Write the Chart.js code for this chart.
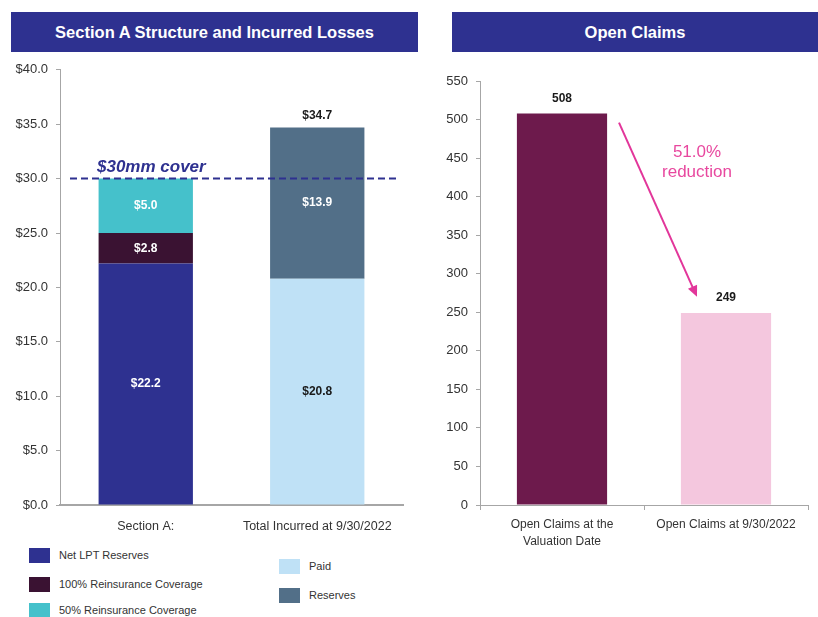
<!DOCTYPE html>
<html>
<head>
<meta charset="utf-8">
<script src="https://cdn.jsdelivr.net/npm/chart.js@4.4.0/dist/chart.umd.min.js"></script>
<style>
  body { margin: 0; background: #fff; font-family: "Liberation Sans", Arial, sans-serif; }
  .wrap { position: relative; width: 818px; height: 617px; overflow: hidden; }
  .head { position: absolute; top: 12px; height: 40px; background: #2e3190; color: #fff;
          font-weight: bold; font-size: 16.5px; text-align: center; line-height: 40px; }
  canvas { position: absolute; }
  .lg { position: absolute; font-size: 11px; color: #333; }
  .lg span { position: absolute; width: 21px; height: 15px; left: 0; top: 0; }
  .lg div { position: absolute; left: 30px; top: 1px; white-space: nowrap; }
</style>
</head>
<body>
<div class="wrap">
  <div style="position:absolute;left:0;top:54px;width:420px;height:486px;"><canvas id="lossChart"></canvas></div>
  <div style="position:absolute;left:430px;top:60px;width:388px;height:495px;"><canvas id="claimChart"></canvas></div>
  <div class="head" style="left:11px;width:407px;">Section A Structure and Incurred Losses</div>
  <div class="head" style="left:452px;width:366px;">Open Claims</div>
  <div id="legend"></div>
</div>
<script>
// data
const lossCats = ['Section A:', 'Total Incurred at 9/30/2022'];
const netLpt = [22.2, null];
const cover100 = [2.8, null];
const cover50 = [5.0, null];
const paid = [null, 20.8];
const reserves = [null, 13.9];
const coverLevel = 30;

const claimCats = [['Open Claims at the', 'Valuation Date'], 'Open Claims at 9/30/2022'];
const openClaims = [508, 249];
const reductionText = ['51.0%', 'reduction'];

const legendItems = [
  { label: 'Net LPT Reserves', color: '#2e3190', x: 29, y: 548 },
  { label: '100% Reinsurance Coverage', color: '#3a1232', x: 29, y: 577 },
  { label: '50% Reinsurance Coverage', color: '#45c1cb', x: 29, y: 603 },
  { label: 'Paid', color: '#bfe1f6', x: 279, y: 559 },
  { label: 'Reserves', color: '#526f88', x: 279, y: 588 }
];

let lg = document.getElementById('legend');
legendItems.forEach(function(it){
  let d = document.createElement('div');
  d.className = 'lg';
  d.style.left = it.x + 'px';
  d.style.top = it.y + 'px';
  d.innerHTML = '<span style="background:' + it.color + '"></span><div>' + it.label + '</div>';
  lg.appendChild(d);
});

Chart.defaults.font.family = '"Liberation Sans", Arial, sans-serif';
Chart.defaults.color = '#333';

const axisGray = '#a6a6a6';

// draws the value labels, the cover line and the total
const lossLabels = {
  id: 'lossLabels',
  afterDatasetsDraw(chart) {
    const ctx = chart.ctx;
    const y = chart.scales.y;
    const x = chart.scales.x;
    ctx.save();
    ctx.font = 'bold 12px "Liberation Sans", Arial';
    ctx.textAlign = 'center';
    ctx.textBaseline = 'middle';
    chart.data.datasets.forEach(function(ds, i){
      chart.getDatasetMeta(i).data.forEach(function(bar, j){
        if (ds.data[j] == null) return;
        ctx.fillStyle = ds.labelColor;
        ctx.fillText('$' + ds.data[j].toFixed(1), bar.x, (bar.y + bar.base) / 2);
      });
    });
    let total = paid[1] + reserves[1];
    ctx.fillStyle = '#1a1a1a';
    ctx.fillText('$' + total.toFixed(1), x.getPixelForValue(1), y.getPixelForValue(total) - 12);

    let ly = y.getPixelForValue(coverLevel);
    ctx.strokeStyle = '#2e3190';
    ctx.lineWidth = 2;
    ctx.setLineDash([7, 4]);
    ctx.beginPath();
    ctx.moveTo(chart.chartArea.left + 10, ly);
    ctx.lineTo(chart.chartArea.right - 3, ly);
    ctx.stroke();
    ctx.setLineDash([]);
    ctx.font = 'italic bold 17px "Liberation Sans", Arial';
    ctx.fillStyle = '#2e3190';
    ctx.textAlign = 'left';
    ctx.textBaseline = 'alphabetic';
    ctx.fillText('$30mm cover', chart.chartArea.left + 37, ly - 7);
    ctx.restore();
  }
};

new Chart(document.getElementById('lossChart'), {
  type: 'bar',
  data: {
    labels: lossCats,
    datasets: [
      { label: 'Net LPT Reserves', data: netLpt, backgroundColor: '#2e3190', labelColor: '#fff' },
      { label: '100% Reinsurance Coverage', data: cover100, backgroundColor: '#3a1232', labelColor: '#fff' },
      { label: '50% Reinsurance Coverage', data: cover50, backgroundColor: '#45c1cb', labelColor: '#fff' },
      { label: 'Paid', data: paid, backgroundColor: '#bfe1f6', labelColor: '#1a1a1a' },
      { label: 'Reserves', data: reserves, backgroundColor: '#526f88', labelColor: '#fff' }
    ]
  },
  options: {
    responsive: true,
    maintainAspectRatio: false,
    animation: false,
    barPercentage: 0.55,
    categoryPercentage: 1,
    layout: { padding: { top: 3, right: 17 } },
    plugins: { legend: { display: false }, tooltip: { enabled: false } },
    scales: {
      x: {
        stacked: true,
        afterFit: function(s){ s.height = 35; },
        grid: { display: false },
        border: { color: axisGray, width: 2 },
        ticks: { font: { size: 12.5 }, color: '#333', padding: 6 }
      },
      y: {
        stacked: true,
        min: 0, max: 40,
        afterFit: function(s){ s.width = 60; },
        grid: { drawOnChartArea: false, tickLength: 4, color: axisGray },
        border: { color: axisGray, width: 1 },
        ticks: { stepSize: 5, font: { size: 13 }, color: '#333', padding: 8,
                 callback: function(v){ return '$' + v.toFixed(1); } }
      }
    }
  },
  plugins: [lossLabels]
});

// value labels and the reduction arrow
const claimLabels = {
  id: 'claimLabels',
  afterDatasetsDraw(chart) {
    const ctx = chart.ctx;
    const y = chart.scales.y;
    const x = chart.scales.x;
    ctx.save();
    ctx.font = 'bold 12px "Liberation Sans", Arial';
    ctx.fillStyle = '#1a1a1a';
    ctx.textAlign = 'center';
    ctx.textBaseline = 'middle';
    chart.getDatasetMeta(0).data.forEach(function(bar, j){
      ctx.fillText(String(openClaims[j]), bar.x, bar.y - 15);
    });

    let x0 = x.getPixelForValue(0) + 57, y0 = y.getPixelForValue(496);
    let x1 = x.getPixelForValue(1) - 29, y1 = y.getPixelForValue(270);
    let ang = Math.atan2(y1 - y0, x1 - x0);
    ctx.strokeStyle = '#e2369a';
    ctx.fillStyle = '#e2369a';
    ctx.lineWidth = 2;
    ctx.beginPath();
    ctx.moveTo(x0, y0);
    ctx.lineTo(x1 - 8 * Math.cos(ang), y1 - 8 * Math.sin(ang));
    ctx.stroke();
    ctx.beginPath();
    ctx.moveTo(x1, y1);
    ctx.lineTo(x1 - 11 * Math.cos(ang) + 5 * Math.sin(ang), y1 - 11 * Math.sin(ang) - 5 * Math.cos(ang));
    ctx.lineTo(x1 - 11 * Math.cos(ang) - 5 * Math.sin(ang), y1 - 11 * Math.sin(ang) + 5 * Math.cos(ang));
    ctx.closePath();
    ctx.fill();

    ctx.font = '17px "Liberation Sans", Arial';
    ctx.fillStyle = '#e8489f';
    let tx = x.getPixelForValue(1) - 29;
    ctx.fillText(reductionText[0], tx, y.getPixelForValue(458));
    ctx.fillText(reductionText[1], tx, y.getPixelForValue(432));
    ctx.restore();
  }
};

new Chart(document.getElementById('claimChart'), {
  type: 'bar',
  data: {
    labels: claimCats,
    datasets: [{
      label: 'Open Claims',
      data: openClaims,
      backgroundColor: ['#6d1a4c', '#f4c7de']
    }]
  },
  options: {
    responsive: true,
    maintainAspectRatio: false,
    animation: false,
    barPercentage: 0.55,
    categoryPercentage: 1,
    layout: { padding: { top: 21, right: 10 } },
    plugins: { legend: { display: false }, tooltip: { enabled: false } },
    scales: {
      x: {
        afterFit: function(s){ s.height = 50; },
        grid: { drawOnChartArea: false, offset: true, tickLength: 5, color: axisGray },
        border: { color: axisGray, width: 1 },
        ticks: { font: { size: 12, lineHeight: 1.4 }, color: '#333', padding: 6 }
      },
      y: {
        min: 0, max: 550,
        afterFit: function(s){ s.width = 50; },
        grid: { drawOnChartArea: false, tickLength: 4, color: axisGray },
        border: { color: axisGray, width: 1 },
        ticks: { stepSize: 50, font: { size: 13 }, color: '#333', padding: 8 }
      }
    }
  },
  plugins: [claimLabels]
});
</script>
</body>
</html>
